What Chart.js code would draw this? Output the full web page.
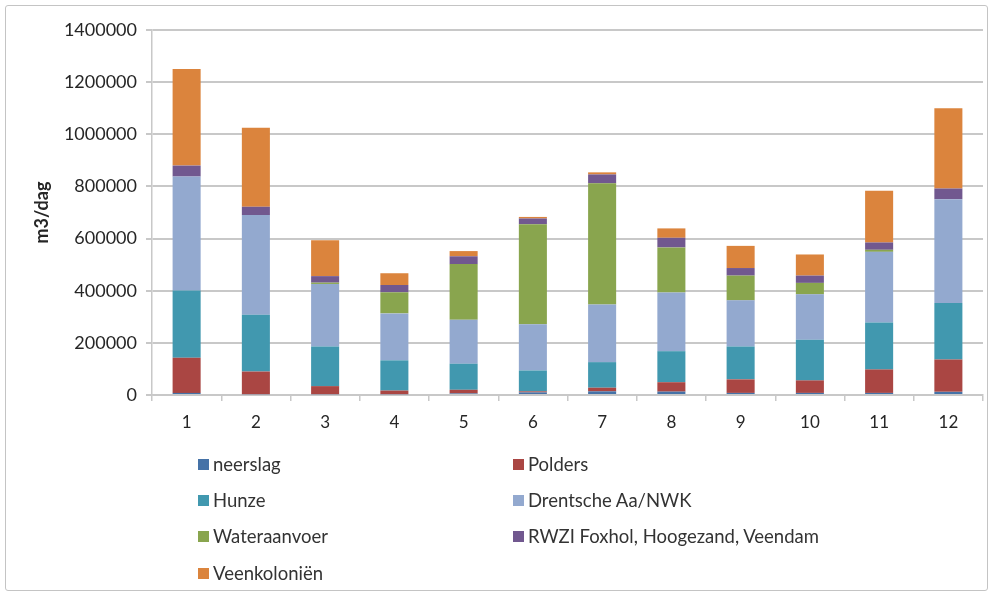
<!DOCTYPE html>
<html>
<head>
<meta charset="utf-8">
<script src="https://cdn.jsdelivr.net/npm/chart.js@4.4.1/dist/chart.umd.min.js"></script>
<style>
  html, body { margin: 0; padding: 0; background: #ffffff; }
  #wrap { position: relative; width: 993px; height: 596px; overflow: hidden; }
  #frame { position: absolute; left: 5px; top: 5px; width: 981px; height: 584px;
           border: 1px solid #c4c4c4; border-radius: 3px; pointer-events: none; }
  canvas { position: absolute; left: 0; top: 0; }
  #legend { position: absolute; left: 0; top: 0; width: 993px; height: 596px;
            font-family: Lato, "Open Sans", sans-serif; font-size: 18.5px; color: #333333; }
  .item { position: absolute; white-space: nowrap; height: 22px; line-height: 22px; }
  .swatch { position: absolute; left: 0; top: 6px; width: 11px; height: 11px; }
  .text { position: absolute; left: 15px; top: 0; }
</style>
</head>
<body>
<div id="wrap">
  <canvas id="chart" width="993" height="596"></canvas>
  <div id="legend"></div>
  <div id="frame"></div>
</div>
<script>
// Months 1..12
const months = ['1', '2', '3', '4', '5', '6', '7', '8', '9', '10', '11', '12'];

// Daily flow per source, m3/dag
const neerslag     = [8000, 3000, 3000, 3000, 6000, 10000, 14000, 13000, 8000, 8000, 8000, 12000];
const polders      = [135000, 87000, 31000, 14000, 14000, 4000, 14000, 36000, 52000, 48000, 90000, 124000];
const hunze        = [258000, 218000, 152000, 116000, 100000, 80000, 98000, 119000, 126000, 156000, 180000, 217000];
const drentscheAa  = [437000, 382000, 240000, 180000, 169000, 177000, 221000, 225000, 177000, 174000, 271000, 398000];
const wateraanvoer = [0, 0, 5000, 81000, 213000, 384000, 465000, 173000, 95000, 44000, 8000, 0];
const rwzi         = [42000, 32000, 25000, 28000, 30000, 22000, 34000, 37000, 29000, 28000, 28000, 41000];
const veenkolonien = [370000, 303000, 138000, 45000, 20000, 6000, 8000, 36000, 85000, 81000, 198000, 308000];

const seriesNames = ['neerslag', 'Polders', 'Hunze', 'Drentsche Aa/NWK', 'Wateraanvoer',
                     'RWZI Foxhol, Hoogezand, Veendam', 'Veenkoloniën'];
const seriesValues = [neerslag, polders, hunze, drentscheAa, wateraanvoer, rwzi, veenkolonien];
const seriesColors = ['#4572A7', '#AA4643', '#4198AF', '#93A9CF', '#89A54E', '#71588F', '#DB843D'];

const yMax = 1400000;
const yStep = 200000;

const axisGray = '#c8c8c8';
const textColor = '#262626';

const datasets = seriesNames.map((name, i) => ({
  label: name,
  data: seriesValues[i],
  backgroundColor: seriesColors[i],
  borderWidth: 0,
  categoryPercentage: 1.0,
  barPercentage: 0.405,
  stack: 'flow'
}));

const chart = new Chart(document.getElementById('chart'), {
  type: 'bar',
  data: { labels: months, datasets },
  options: {
    responsive: false,
    animation: false,
    devicePixelRatio: 1,
    layout: { padding: { left: 0, right: 10, top: 30, bottom: 161 } },
    plugins: { legend: { display: false }, tooltip: { enabled: false } },
    scales: {
      x: {
        stacked: true,
        offset: true,
        afterFit: (s) => { s.height = 40; },
        grid: { display: true, drawOnChartArea: false, drawTicks: true, tickLength: 6,
                color: axisGray, lineWidth: 1.5, offset: true },
        border: { display: true, color: axisGray, width: 1.5 },
        ticks: { color: textColor, font: { family: 'Lato', size: 17 }, padding: 11, maxRotation: 0 }
      },
      y: {
        stacked: true,
        min: 0,
        max: yMax,
        afterFit: (s) => { s.width = 152; },
        grid: { color: axisGray, lineWidth: 2, tickLength: 6 },
        border: { display: true, color: axisGray, width: 1.5 },
        ticks: { stepSize: yStep, color: textColor, padding: 9,
                 font: { family: 'Lato', size: 18 },
                 callback: (v) => String(v) },
        title: { display: true, text: 'm3/dag', color: textColor,
                 font: { family: 'Lato', size: 18, weight: 'bold' },
                 padding: { top: 31, bottom: 0 } }
      }
    }
  }
});

// Two-column legend below the plot, built from the chart's datasets
const legendEl = document.getElementById('legend');
const colX = [198, 513];
const rowCenterY = [464, 500, 536, 573];
chart.data.datasets.forEach((ds, i) => {
  const item = document.createElement('div');
  item.className = 'item';
  item.style.left = colX[i % 2] + 'px';
  item.style.top = (rowCenterY[Math.floor(i / 2)] - 11) + 'px';
  const sw = document.createElement('span');
  sw.className = 'swatch';
  sw.style.background = ds.backgroundColor;
  const tx = document.createElement('span');
  tx.className = 'text';
  tx.textContent = ds.label;
  item.appendChild(sw);
  item.appendChild(tx);
  legendEl.appendChild(item);
});
</script>
</body>
</html>
